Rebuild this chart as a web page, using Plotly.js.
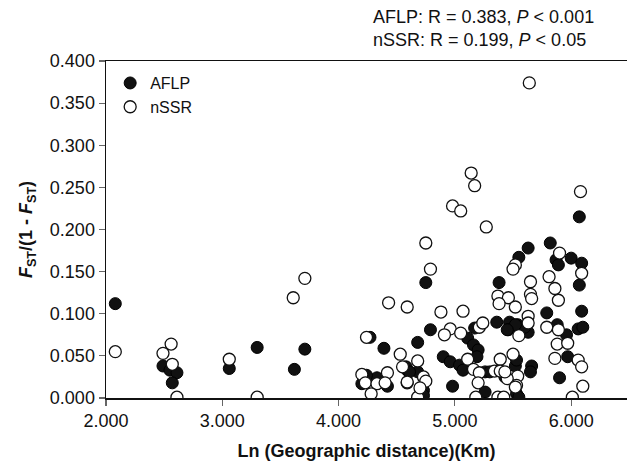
<!DOCTYPE html>
<html>
<head>
<meta charset="utf-8">
<script src="https://cdn.plot.ly/plotly-3.0.1.min.js"></script>
<style>html,body{margin:0;padding:0;background:#fff;}#chart{width:627px;height:461px;}</style>
</head>
<body>
<div id="chart"></div>
<script>
// AFLP: Ln(geographic distance) vs Fst/(1-Fst)
var aflpX = [2.08,2.49,2.55,2.61,2.57,3.06,3.30,3.62,3.71,4.27,4.39,4.59,4.33,4.20,4.42,4.24,
  4.75,4.79,4.68,4.58,4.68,4.61,4.73,4.73,4.98,4.90,4.96,5.04,5.07,5.11,5.16,5.20,5.19,5.17,
  5.36,5.47,5.46,5.54,5.26,5.30,5.38,5.43,5.26,5.53,5.55,5.52,5.38,5.55,5.63,5.63,5.66,5.65,
  5.60,5.82,5.79,5.87,5.89,6.00,6.09,6.07,6.07,6.09,5.88,5.96,6.06,6.10,5.97,5.90,5.53,5.52,5.45];
var aflpY = [0.112,0.038,0.033,0.030,0.018,0.035,0.060,0.034,0.058,0.072,0.059,0.033,0.024,0.017,0.014,0.027,
  0.137,0.081,0.066,0.037,0.031,0.031,0.009,0.003,0.014,0.049,0.043,0.039,0.033,0.071,0.063,0.057,0.049,0.083,
  0.090,0.090,0.081,0.087,0.031,0.031,0.033,0.025,0.007,0.005,0.001,0.038,0.137,0.167,0.178,0.078,0.038,0.031,
  0.084,0.184,0.101,0.164,0.158,0.166,0.160,0.134,0.215,0.103,0.087,0.075,0.082,0.084,0.049,0.024,0.045,0.087,0.081];

// nSSR
var nssrX = [2.08,2.49,2.56,2.57,2.61,3.06,3.30,3.61,3.71,4.43,4.59,4.24,4.53,4.55,4.20,4.42,4.23,4.33,4.40,4.28,4.59,
  5.14,5.17,4.98,5.05,5.27,4.75,4.79,5.52,5.50,5.65,5.81,5.37,5.46,5.38,5.52,5.65,5.66,4.88,5.07,4.96,4.91,5.05,5.21,5.24,
  5.63,5.63,5.55,5.79,5.11,5.16,5.21,5.34,5.39,5.50,5.54,5.45,5.53,5.37,5.42,5.18,5.20,4.68,4.73,4.75,4.59,4.68,4.70,
  6.08,5.90,6.09,5.86,5.89,5.89,5.88,5.97,5.86,6.06,6.09,6.10,6.01,5.64,5.39,5.43,5.52];
var nssrY = [0.055,0.053,0.064,0.040,0.001,0.046,0.001,0.119,0.142,0.113,0.108,0.072,0.052,0.037,0.028,0.030,0.018,0.017,0.018,0.005,0.018,
  0.267,0.252,0.228,0.222,0.203,0.184,0.153,0.158,0.153,0.138,0.144,0.121,0.119,0.112,0.108,0.123,0.118,0.102,0.103,0.082,0.075,0.077,0.084,0.089,
  0.097,0.089,0.074,0.084,0.046,0.034,0.030,0.032,0.046,0.052,0.026,0.023,0.015,0.001,0.001,0.001,0.018,0.044,0.025,0.020,0.019,0.001,0.012,
  0.245,0.172,0.148,0.130,0.116,0.081,0.064,0.065,0.047,0.045,0.037,0.014,0.001,0.374,0.032,0.031,0.013];

var xTickVals = [2,3,4,5,6];
var xTickText = ['2.000','3.000','4.000','5.000','6.000'];
var yTickVals = [0,0.05,0.1,0.15,0.2,0.25,0.3,0.35,0.4];
var yTickText = ['0.000','0.050','0.100','0.150','0.200','0.250','0.300','0.350','0.400'];

var FONT = 'Liberation Sans, Arial, Helvetica, sans-serif';

var traces = [
  {x: aflpX, y: aflpY, type: 'scatter', mode: 'markers', name: 'AFLP',
   marker: {size: 12, color: '#111111', line: {color: '#000000', width: 1}}},
  {x: nssrX, y: nssrY, type: 'scatter', mode: 'markers', name: 'nSSR',
   marker: {size: 12, color: '#ffffff', line: {color: '#111111', width: 1.3}}}
];

var layout = {
  width: 627, height: 461,
  margin: {l: 106, r: 0, t: 61, b: 63},
  paper_bgcolor: '#ffffff', plot_bgcolor: '#ffffff',
  font: {family: FONT, size: 18, color: '#111111'},
  showlegend: true,
  legend: {x: 0.008, y: 0.985, xanchor: 'left', yanchor: 'top', bgcolor: 'rgba(0,0,0,0)',
           font: {family: FONT, size: 16, color: '#111111'}, itemwidth: 30, tracegroupgap: 0},
  xaxis: {range: [2, 6.48], tickvals: xTickVals, ticktext: xTickText, showgrid: false, zeroline: false,
          showline: true, linecolor: '#111111', linewidth: 1.5, mirror: true,
          ticks: 'outside', ticklen: 6, tickcolor: '#666666', tickwidth: 1.2,
          tickfont: {family: FONT, size: 18, color: '#111111'},
          title: {text: '<b>Ln (Geographic distance)(Km)</b>', font: {family: FONT, size: 18, color: '#111111'}, standoff: 14}},
  yaxis: {range: [0, 0.4], tickvals: yTickVals, ticktext: yTickText, showgrid: false, zeroline: false,
          showline: true, linecolor: '#111111', linewidth: 1.5,
          ticks: 'outside', ticklen: 6, tickcolor: '#666666', tickwidth: 1.2,
          tickfont: {family: FONT, size: 18, color: '#111111'},
          title: {text: '<b><i>F</i><sub>ST</sub>/(1 - <i>F</i><sub>ST</sub>)</b>', font: {family: FONT, size: 18, color: '#111111'}, standoff: 12}},
  annotations: [{xref: 'paper', yref: 'paper', x: 0.509, y: 1.095, xanchor: 'left', yanchor: 'middle', align: 'left',
    showarrow: false, font: {family: FONT, size: 18, color: '#111111'},
    text: 'AFLP: R = 0.383, <i>P</i> &lt; 0.001<br>nSSR: R = 0.199, <i>P</i> &lt; 0.05'}]
};

Plotly.newPlot('chart', traces, layout, {displayModeBar: false, staticPlot: true});
</script>
</body>
</html>
